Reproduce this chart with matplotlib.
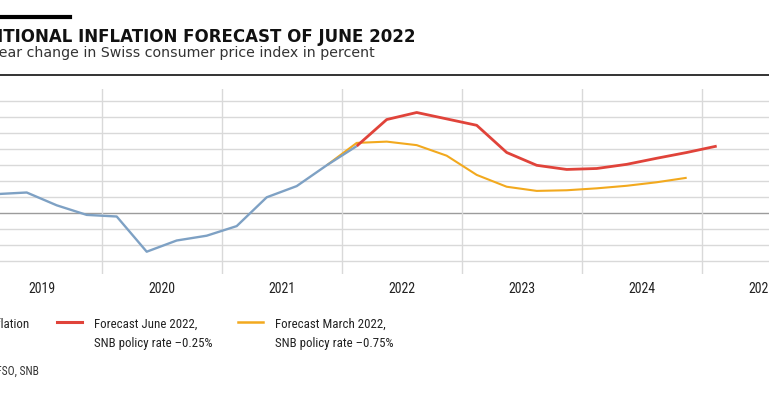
import matplotlib
matplotlib.use("Agg")
import matplotlib.pyplot as plt
from matplotlib.lines import Line2D
from matplotlib import font_manager as fm

# ---------------- data ----------------
years = [2019, 2020, 2021, 2022, 2023, 2024, 2025]
year_labels = ["2019", "2020", "2021", "2022", "2023", "2024", "2025"]

# observed inflation, quarterly 2019Q1 .. 2022Q1
infl_start = (2019, 1)
inflation = [0.6, 0.65, 0.25, -0.05, -0.1, -1.2, -0.85, -0.7, -0.4, 0.5, 0.85, 1.5, 2.1]

# conditional forecast June 2022, 2022Q1 .. 2025Q1
june_start = (2022, 1)
forecast_june = [2.1, 2.93, 3.15, 2.95, 2.75, 1.9, 1.5, 1.37, 1.4, 1.53, 1.72, 1.9, 2.1]

# conditional forecast March 2022, 2021Q4 .. 2024Q4
march_start = (2021, 4)
forecast_march = [1.5, 2.2, 2.24, 2.13, 1.8, 1.2, 0.83, 0.7, 0.72, 0.78, 0.86, 0.97, 1.11]

yticks = [-1.5, -1.0, -0.5, 0.0, 0.5, 1.0, 1.5, 2.0, 2.5, 3.0, 3.5]

title = "CONDITIONAL INFLATION FORECAST OF JUNE 2022"
subtitle = "Year-on-year change in Swiss consumer price index in percent"
legend_labels = [("Inflation",), ("Forecast June 2022,", "SNB policy rate \u20130.25%"),
                 ("Forecast March 2022,", "SNB policy rate \u20130.75%")]
source = "Source(s): SFSO, SNB"

# ---------------- helpers ----------------
def qx(start, n):
    y0, q0 = start
    xs = []
    for i in range(n):
        q = q0 - 1 + i
        xs.append(y0 + q // 4 + ((q % 4) + 0.5) / 4)
    return xs

def pick(names):
    for n in names:
        try:
            fm.findfont(fm.FontProperties(family=n), fallback_to_default=False)
            return n
        except Exception:
            pass
    return "DejaVu Sans"

narrow = pick(["Liberation Sans Narrow", "Roboto Condensed", "Open Sans Condensed", "DejaVu Sans"])

W, H = 769, 404
fig = plt.figure(figsize=(W / 100, H / 100), dpi=100)
fx = lambda px: px / W
fy = lambda py: 1 - py / H

BLUE = "#7ea1c4"
RED = "#e0433a"
ORANGE = "#f2a91e"

# axes: x from 2019.0 (px -18.3) to 2026.0 ; y from -1.9 to 3.9 (px 274.1 .. 88.5)
x0p, x1p = -18.3, -18.3 + 7 * 120
ytop, ybot = 213.3 - 3.9 * 32, 213.3 + 1.9 * 32
ax = fig.add_axes([fx(x0p), fy(ybot), (x1p - x0p) / W, (ybot - ytop) / H])
ax.set_xlim(2019, 2026)
ax.set_ylim(-1.9, 3.9)
for s in ax.spines.values():
    s.set_visible(False)

for v in yticks:
    ax.axhline(v, color="#9c9c9c" if v == 0 else "#d9d9d9", lw=1.0, zorder=1)
for yv in years[1:]:
    ax.axvline(yv, color="#d9d9d9", lw=1.0, zorder=1)

ax.plot(qx(march_start, len(forecast_march)), forecast_march, color=ORANGE, lw=1.5, zorder=3,
        solid_capstyle="butt", solid_joinstyle="round")
ax.plot(qx(infl_start, len(inflation)), inflation, color=BLUE, lw=1.7, zorder=4,
        solid_capstyle="butt", solid_joinstyle="round")
ax.plot(qx(june_start, len(forecast_june)), forecast_june, color=RED, lw=2.0, zorder=5,
        solid_capstyle="butt", solid_joinstyle="round")

ax.set_yticks([])
ax.set_xticks([y + 0.5 for y in years])
ax.set_xticklabels(year_labels, fontfamily=narrow, fontsize=10, color="#222222")
ax.tick_params(axis="x", length=0, pad=6)

# ---------------- header ----------------
fig.add_artist(Line2D([fx(0), fx(70)], [fy(17), fy(17)], color="black", lw=3.0))
fig.text(fx(415), fy(41.7), title, ha="right", va="baseline", fontsize=12.0,
         fontweight="bold", color="#111111", family="DejaVu Sans")
fig.text(fx(375), fy(56.5), subtitle, ha="right", va="baseline", fontsize=10.2,
         color="#333333", family="DejaVu Sans")
fig.add_artist(Line2D([0, 1], [fy(74.5), fy(74.5)], color="#333333", lw=1.4))

# ---------------- legend ----------------
LFS = 9.3
fig.text(fx(29.5), fy(328), legend_labels[0][0], ha="right", va="baseline",
         fontsize=LFS, family=narrow, color="#222222")
fig.add_artist(Line2D([fx(57), fx(82)], [fy(322), fy(322)], color=RED, lw=2.2))
fig.text(fx(94), fy(328), legend_labels[1][0], ha="left", va="baseline",
         fontsize=LFS, family=narrow, color="#222222")
fig.text(fx(94), fy(347), legend_labels[1][1], ha="left", va="baseline",
         fontsize=LFS, family=narrow, color="#222222")
fig.add_artist(Line2D([fx(238), fx(263)], [fy(322), fy(322)], color=ORANGE, lw=1.8))
fig.text(fx(275), fy(328), legend_labels[2][0], ha="left", va="baseline",
         fontsize=LFS, family=narrow, color="#222222")
fig.text(fx(275), fy(347), legend_labels[2][1], ha="left", va="baseline",
         fontsize=LFS, family=narrow, color="#222222")

fig.text(fx(38.5), fy(375), source, ha="right", va="baseline",
         fontsize=8.3, family=narrow, color="#333333")

fig.savefig("out.png", dpi=100)
